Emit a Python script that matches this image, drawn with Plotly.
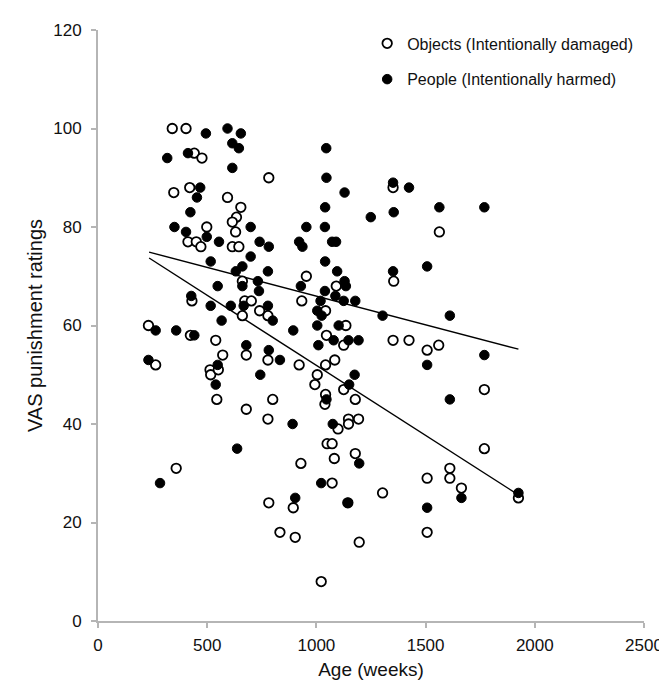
import plotly.graph_objects as go

# Objects (intentionally damaged) - open circles
obj_age = [340, 403, 441, 476, 782, 347, 420, 593, 654, 634, 615, 630, 498, 412, 450, 471, 615, 645,
           954, 661, 430, 672, 702, 661, 740, 778, 933, 1042, 231, 423, 539, 1046, 571, 1351, 1563,
           1354, 1091, 1135, 1125, 1351, 1424, 1560, 1507, 1084, 264, 679, 778, 921, 1042, 513, 516,
           551, 1004, 993, 544, 800, 679, 1042, 1039, 778, 1049, 1072, 1082, 358, 929, 1072, 782,
           894, 833, 903, 1022, 1125, 1178, 1769, 1099, 1147, 1147, 1193, 1178, 1769, 1611, 1611,
           1507, 1664, 1925, 1303, 1144, 1507, 1196]
obj_vas = [100, 100, 95, 94, 90, 87, 88, 86, 84, 82, 81, 79, 80, 77, 77, 76, 76, 76,
           70, 69, 65, 65, 65, 62, 63, 62, 65, 63, 60, 58, 57, 58, 54, 88, 79,
           69, 68, 60, 56, 57, 57, 56, 55, 53, 52, 54, 53, 52, 52, 51, 50,
           51, 50, 48, 45, 45, 43, 46, 44, 41, 36, 36, 33, 31, 32, 28, 24,
           23, 18, 17, 8, 47, 45, 47, 39, 41, 40, 41, 34, 35, 31, 29,
           29, 27, 25, 26, 24, 18, 16]

# People (intentionally harmed) - filled circles
ppl_age = [494, 593, 654, 615, 645, 317, 412, 615, 1045, 1046, 468, 453, 1040, 423, 350, 699, 954,
           1039, 403, 498, 554, 740, 782, 921, 936, 1072, 1090, 699, 516, 1040, 661, 631, 778, 1095,
           929, 661, 548, 732, 737, 1039, 1019, 427, 516, 667, 608, 778, 800, 1004, 1024, 566, 264,
           358, 441, 894, 1004, 679, 782, 1009, 231, 1129, 1351, 1424, 1249, 1354, 1563, 1769, 1507,
           1351, 1129, 1135, 1087, 1125, 1178, 1303, 1611, 1102, 1079, 1147, 1193, 1769, 833, 548,
           539, 743, 1046, 891, 1075, 637, 284, 1022, 903, 1507, 1175, 1150, 1611, 1196, 1664, 1925,
           1144, 1507]
ppl_vas = [99, 100, 99, 97, 96, 94, 95, 92, 96, 90, 88, 86, 84, 83, 80, 80, 80,
           80, 79, 78, 77, 77, 76, 77, 76, 77, 77, 74, 73, 73, 72, 71, 71, 71,
           68, 68, 68, 69, 67, 67, 65, 66, 64, 64, 64, 64, 61, 63, 62, 61, 59,
           59, 58, 59, 60, 56, 55, 56, 53, 87, 89, 88, 82, 83, 84, 84, 72,
           71, 69, 68, 66, 65, 65, 62, 62, 60, 57, 57, 57, 54, 53, 52,
           48, 50, 45, 40, 40, 35, 28, 28, 25, 52, 50, 48, 45, 32, 25, 26,
           24, 23]

# Trend lines (endpoints)
trend_age = [234, 1925]
trend_obj = [73.7, 25.6]
trend_ppl = [74.9, 55.2]

x_ticks = [0, 500, 1000, 1500, 2000, 2500]
y_ticks = [0, 20, 40, 60, 80, 100, 120]

FONT = "Liberation Sans, Arial, sans-serif"

fig = go.Figure()
fig.add_trace(go.Scatter(
    x=trend_age, y=trend_obj, mode="lines", line=dict(color="black", width=1.4),
    showlegend=False, hoverinfo="skip"))
fig.add_trace(go.Scatter(
    x=trend_age, y=trend_ppl, mode="lines", line=dict(color="black", width=1.4),
    showlegend=False, hoverinfo="skip"))
fig.add_trace(go.Scatter(
    x=obj_age, y=obj_vas, mode="markers", name="Objects (Intentionally damaged)",
    legendgroup="a",
    marker=dict(symbol="circle", size=9.5, color="white", line=dict(color="black", width=1.8))))
fig.add_trace(go.Scatter(
    x=ppl_age, y=ppl_vas, mode="markers", name="People (Intentionally harmed)",
    legendgroup="b",
    marker=dict(symbol="circle", size=9.5, color="black", line=dict(color="black", width=1))))

axis_common = dict(
    showline=True, linecolor="#b5b5b5", linewidth=2, ticks="outside", ticklen=5,
    tickcolor="#b5b5b5", tickwidth=1.5, showgrid=False, zeroline=False,
    tickfont=dict(family=FONT, size=17, color="#111"),
)

fig.update_layout(
    width=667, height=682,
    margin=dict(l=90, r=25, t=22, b=69),
    paper_bgcolor="white", plot_bgcolor="white",
    font=dict(family=FONT, color="#111"),
    xaxis=dict(range=[0, 2500], tickvals=x_ticks, ticklabelstandoff=3,
               title=dict(text="Age (weeks)", font=dict(family=FONT, size=19), standoff=8),
               **axis_common),
    yaxis=dict(range=[0, 120], tickvals=y_ticks, ticklabelstandoff=6,
               title=dict(text="VAS punishment ratings", font=dict(family=FONT, size=20), standoff=5),
               **axis_common),
    legend=dict(x=0.493, y=1.006, xanchor="left", yanchor="top",
                font=dict(family=FONT, size=16, color="#111"),
                bgcolor="rgba(0,0,0,0)", itemwidth=30, tracegroupgap=12,
                traceorder="grouped"),
)

fig.write_html("out.html")
